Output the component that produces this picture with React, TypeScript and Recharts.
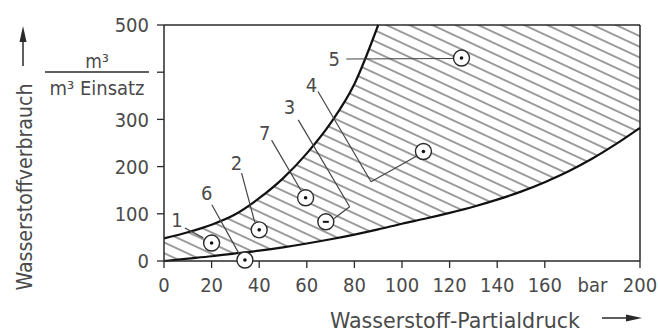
import {
  Area,
  ComposedChart,
  Line,
  ReferenceLine,
  Scatter,
  XAxis,
  YAxis,
} from "recharts";

// Wasserstoff-Partialdruck (bar) sampling grid
const pressure = [0, 10, 20, 30, 40, 50, 60, 70, 80, 90, 100, 110, 120, 130, 140, 150, 160, 170, 180, 190, 200];
// upper boundary, leaves the frame at ~90 bar
const upperCurve = [48, 61, 77, 99, 133, 175, 228, 292, 375, 500, null, null, null, null, null, null, null, null, null, null, null];
// lower boundary
const lowerCurve = [0, 5, 10, 16, 22, 29, 37, 46, 56, 67, 79, 90, 102, 115, 130, 147, 167, 190, 217, 248, 282];

const xTicks = [0, 20, 40, 60, 80, 100, 120, 140, 160, 180, 200];
const yTicks = [0, 100, 200, 300, 400, 500];

const pointNames = ["1", "6", "2", "7", "3", "4", "5"];
const pointX = [20, 34, 40, 59.5, 68, 109, 125];
const pointY = [38, 2, 66, 134, 83, 232, 430];

const labelX = [5.4, 18, 30.5, 42.3, 52.7, 62, 71.5];
const labelY = [87, 144, 208, 271, 326, 373, 428];

// leader lines, one polyline per label
const leaders: [number, number][][] = [
  [[8.8, 70], [16.5, 49]],
  [[20.1, 119], [31.8, 13]],
  [[32.6, 186], [38.1, 83]],
  [[45.2, 256], [57.5, 150]],
  [[56.4, 299], [78, 115], [71.5, 90]],
  [[64.7, 359], [87, 168], [106, 222]],
  [[76.6, 428], [121.5, 429]],
];

const Y_MAX = 500;
const FONT = "'Liberation Sans Narrow', 'DejaVu Sans Condensed', sans-serif";
const INK = "#2a2a2a";
const TEXT = "#4a4a4a";

const rows = pressure.map((x, i) => ({ x, lower: lowerCurve[i], upper: upperCurve[i] }));
const points = pointNames.map((name, i) => ({ x: pointX[i], y: pointY[i], name }));
const labels = pointNames.map((name, i) => ({ x: labelX[i], y: labelY[i], name }));

const X_TICK_SIZE = 7;
const X_TICK_MARGIN = 10;

function XTick({ x, y, payload }: any) {
  const v = payload.value;
  return (
    <g>
      {v !== 180 && (
        <line
          x1={x}
          x2={x}
          y1={y - X_TICK_SIZE - X_TICK_MARGIN}
          y2={y - X_TICK_MARGIN}
          stroke={INK}
          strokeWidth={1.3}
        />
      )}
      <text x={x} y={y} dy="0.71em" textAnchor="middle" fontSize={20} fontFamily={FONT} fill={TEXT}>
        {v === 180 ? "bar" : v}
      </text>
    </g>
  );
}

function CircledPoint({ cx, cy, payload }: any) {
  return (
    <g>
      <circle cx={cx} cy={cy} r={8} fill="#fff" stroke={INK} strokeWidth={1.4} />
      {payload.name === "3" ? (
        <rect x={cx - 3} y={cy - 1} width={6} height={2} fill="#111" />
      ) : (
        <circle cx={cx} cy={cy} r={1.8} fill="#111" />
      )}
    </g>
  );
}

function PointLabel({ cx, cy, payload }: any) {
  return (
    <text x={cx} y={cy} textAnchor="middle" dominantBaseline="central" fontSize={20} fontFamily={FONT} fill={TEXT}>
      {payload.name}
    </text>
  );
}

export default function App() {
  return (
    <div style={{ position: "absolute", left: 0, top: 0, width: 658, height: 335, background: "#fff" }}>
      <ComposedChart
        width={658}
        height={335}
        data={rows}
        margin={{ top: 25, right: 18, left: 104, bottom: 44 }}
      >
        <defs>
          <pattern id="hatch" patternUnits="userSpaceOnUse" width={12} height={9.7} patternTransform="rotate(25)">
            <path d="M0,4.85 H12" stroke="#3c3c3c" strokeWidth={1} />
          </pattern>
        </defs>
        <XAxis
          dataKey="x"
          type="number"
          domain={[0, 200]}
          ticks={xTicks}
          interval={0}
          tick={<XTick />}
          tickLine={false}
          tickSize={X_TICK_SIZE}
          tickMargin={X_TICK_MARGIN}
          axisLine={{ stroke: INK, strokeWidth: 1.5 }}
          height={30}
        />
        <YAxis
          type="number"
          domain={[0, Y_MAX]}
          ticks={yTicks}
          interval={0}
          width={60}
          tickSize={7}
          tickMargin={8}
          tickFormatter={(v: number) => (v === 400 ? "" : String(v))}
          tick={{ fontSize: 20, fontFamily: FONT, fill: TEXT }}
          tickLine={{ stroke: INK, strokeWidth: 1.3 }}
          axisLine={{ stroke: INK, strokeWidth: 1.5 }}
        />
        <Area
          type="monotone"
          dataKey={(d: any) => (d.upper == null ? null : [d.lower, d.upper])}
          fill="url(#hatch)"
          fillOpacity={1}
          stroke="none"
          isAnimationActive={false}
        />
        <Area
          type="monotone"
          dataKey={(d: any) => (d.x >= 90 ? [d.lower, Y_MAX] : null)}
          fill="url(#hatch)"
          fillOpacity={1}
          stroke="none"
          isAnimationActive={false}
        />
        <ReferenceLine y={Y_MAX} stroke={INK} strokeWidth={1.5} />
        <ReferenceLine x={200} stroke={INK} strokeWidth={1.5} />
        <Line type="monotone" dataKey="upper" stroke="#111" strokeWidth={2.2} dot={false} isAnimationActive={false} />
        <Line type="monotone" dataKey="lower" stroke="#111" strokeWidth={2.2} dot={false} isAnimationActive={false} />
        {leaders.flatMap((pts, li) =>
          pts.slice(1).map((p, si) => (
            <ReferenceLine
              key={`l${li}-${si}`}
              segment={[
                { x: pts[si][0], y: pts[si][1] },
                { x: p[0], y: p[1] },
              ]}
              stroke="#444"
              strokeWidth={1.2}
              ifOverflow="visible"
            />
          ))
        )}
        <Scatter data={points} dataKey="y" shape={<CircledPoint />} isAnimationActive={false} />
        <Scatter data={labels} dataKey="y" shape={<PointLabel />} isAnimationActive={false} />
      </ComposedChart>
      <svg
        width={658}
        height={335}
        style={{ position: "absolute", left: 0, top: 0, pointerEvents: "none" }}
        fontFamily={FONT}
      >
        <text
          transform="translate(32,187) rotate(-90)"
          textAnchor="middle"
          fontSize={22}
          fill={TEXT}
          textLength={207}
          lengthAdjust="spacingAndGlyphs"
        >
          Wasserstoffverbrauch
        </text>
        <line x1={23} x2={23} y1={66} y2={40} stroke={INK} strokeWidth={1.5} />
        <polygon points="23,26 19.5,42 26.5,42" fill={INK} />
        <text x={97} y={68} textAnchor="middle" fontSize={19} fill={TEXT}>
          m³
        </text>
        <line x1={45} x2={149} y1={72} y2={72} stroke={INK} strokeWidth={1.5} />
        <text x={97} y={95} textAnchor="middle" fontSize={19} fill={TEXT} textLength={95} lengthAdjust="spacingAndGlyphs">
          m³ Einsatz
        </text>
        <text x={330} y={328} fontSize={21} fill={TEXT} textLength={250} lengthAdjust="spacingAndGlyphs">
          Wasserstoff-Partialdruck
        </text>
        <line x1={602} x2={628} y1={318} y2={318} stroke={INK} strokeWidth={1.5} />
        <polygon points="642,318 626,314.5 626,321.5" fill={INK} />
      </svg>
    </div>
  );
}
